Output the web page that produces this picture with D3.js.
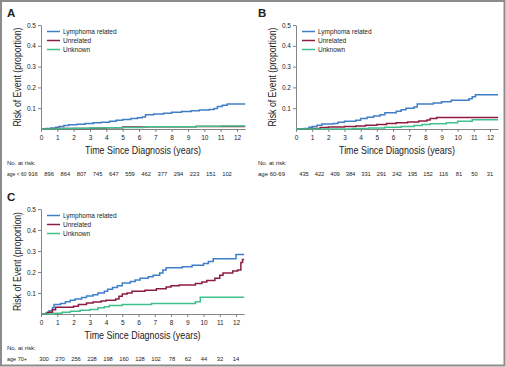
<!DOCTYPE html>
<html>
<head>
<meta charset="utf-8">
<script src="https://cdnjs.cloudflare.com/ajax/libs/d3/7.8.5/d3.min.js"></script>
<style>
  body { margin: 0; background: #fff; }
  text { font-family: "Liberation Sans", Arial, sans-serif; fill: #222; }
</style>
</head>
<body>
<svg id="drawing_region"></svg>
<script>
// cumulative incidence, [years, proportion]
const lymphomaA = [[0,0],[0.3,0.002],[0.6,0.005],[0.9,0.008],[1.1,0.012],[1.4,0.017],[1.7,0.02],[2.2,0.023],[2.7,0.027],[3.2,0.03],[3.7,0.033],[4.2,0.037],[4.6,0.042],[5.0,0.046],[5.5,0.05],[5.9,0.054],[6.2,0.058],[6.4,0.068],[6.9,0.072],[7.5,0.076],[8.0,0.08],[8.6,0.084],[9.2,0.088],[9.7,0.091],[10.3,0.094],[10.6,0.098],[10.8,0.108],[11.1,0.114],[11.4,0.12],[12.5,0.12]];
const unrelatedA = [[0,0],[1,0.002],[2,0.003],[3,0.004],[4,0.006],[5,0.01],[6.4,0.011],[9,0.011],[9.5,0.012],[12.5,0.012]];
const unknownA = [[0,0],[1,0.002],[2,0.004],[3,0.005],[4,0.006],[5,0.007],[6.3,0.011],[9.5,0.013],[11,0.014],[12.5,0.014]];

const lymphomaB = [[0,0],[0.5,0.002],[0.8,0.008],[1,0.012],[1.3,0.018],[1.6,0.024],[2.3,0.027],[2.6,0.032],[3,0.037],[3.7,0.042],[4,0.05],[4.4,0.057],[4.8,0.063],[5.2,0.068],[5.5,0.078],[6.2,0.085],[6.5,0.093],[6.8,0.1],[7.3,0.106],[7.5,0.12],[8.5,0.125],[9,0.131],[9.6,0.138],[10.7,0.145],[10.9,0.155],[11.1,0.165],[12.5,0.165]];
const unrelatedB = [[0,0],[1,0.003],[1.5,0.007],[2,0.01],[3,0.012],[3.7,0.015],[4.3,0.018],[5,0.022],[5.6,0.026],[6.2,0.03],[6.9,0.034],[7.6,0.038],[8.1,0.043],[8.3,0.05],[8.7,0.055],[12.5,0.055]];
const unknownB = [[0,0],[3.5,0.002],[4.5,0.005],[5.5,0.008],[6.5,0.012],[7.3,0.017],[7.8,0.022],[8.3,0.025],[9.3,0.03],[10,0.037],[10.9,0.045],[12.5,0.045]];

const lymphomaC = [[0,0],[0.3,0.005],[0.5,0.015],[0.7,0.03],[0.8,0.045],[1.2,0.05],[1.5,0.058],[1.8,0.065],[2.1,0.072],[2.5,0.078],[2.8,0.086],[3.2,0.092],[3.5,0.1],[3.9,0.108],[4.1,0.118],[4.4,0.126],[4.7,0.135],[5,0.148],[5.5,0.155],[5.8,0.162],[6.1,0.17],[6.6,0.177],[6.9,0.185],[7.3,0.195],[7.5,0.21],[7.7,0.22],[8.7,0.225],[9.3,0.232],[10,0.24],[10.3,0.25],[10.6,0.263],[12,0.283],[12.5,0.283]];
const unrelatedC = [[0,0],[0.4,0.008],[0.7,0.02],[0.9,0.032],[2,0.037],[2.3,0.045],[2.8,0.052],[3.2,0.057],[3.7,0.062],[4,0.066],[4.6,0.072],[4.8,0.085],[5,0.095],[5.3,0.1],[5.6,0.108],[6.4,0.113],[7.1,0.12],[7.7,0.128],[8,0.135],[8.5,0.138],[9.5,0.145],[9.9,0.152],[10.2,0.16],[10.7,0.17],[11,0.185],[11.2,0.195],[11.8,0.205],[12.1,0.21],[12.3,0.245],[12.4,0.26],[12.5,0.26]];
const unknownC = [[0,0],[0.8,0.003],[1.3,0.008],[1.8,0.013],[2.4,0.018],[3,0.022],[3.5,0.03],[3.9,0.035],[4.2,0.04],[5,0.045],[6.8,0.05],[9.4,0.05],[9.5,0.058],[9.8,0.08],[12.5,0.08]];

const seriesNames = ["Lymphoma related", "Unrelated", "Unknown"];
const seriesColors = ["#3f7fc8", "#8e1c41", "#40c08c"];
const xTicks = [0,1,2,3,4,5,6,7,8,9,10,11,12];
const yTicks = [0.1,0.2,0.3,0.4,0.5];

const riskA = [916,896,864,807,745,647,559,462,377,294,223,151,102];
const riskB = [435,422,409,384,331,291,242,195,152,116,81,50,31];
const riskC = [300,270,256,228,198,160,128,102,78,62,44,32,14];

const svg = d3.select("#drawing_region")
    .attr("width", 506)
    .attr("height", 367);

svg.append("rect")
    .attr("x", 1).attr("y", 1)
    .attr("width", 503.5).attr("height", 364.5)
    .attr("fill", "none")
    .attr("stroke", "#8c8c8c")
    .attr("stroke-width", 2);

const panels = [
    { letter: "A", x0: 41, x12: 237, yTop: 25, yBot: 129, left: 7, series: [lymphomaA, unrelatedA, unknownA], risk: riskA, riskLabel: "age < 60", labelSize: 5, riskRange: [33, 227] },
    { letter: "B", x0: 296, x12: 490, yTop: 25, yBot: 129, left: 258, series: [lymphomaB, unrelatedB, unknownB], risk: riskB, riskLabel: "age 60-69", labelSize: 6, riskRange: [304, 490] },
    { letter: "C", x0: 41, x12: 236, yTop: 209, yBot: 314, left: 7, series: [lymphomaC, unrelatedC, unknownC], risk: riskC, riskLabel: "age 70+", labelSize: 5.5, riskRange: [44, 236] }
];

panels.forEach(p => drawPanel(p));

function drawPanel(p) {
    const perYear = (p.x12 - p.x0) / 12;
    const x = d3.scaleLinear().domain([0, 12.5]).range([p.x0, p.x0 + perYear * 12.5]);
    const y = d3.scaleLinear().domain([0, 0.5]).range([p.yBot, p.yTop]);
    const xRisk = d3.scalePoint().domain(xTicks).range(p.riskRange);
    const g = svg.append("g");

    // panel letter
    g.append("text")
        .attr("x", p.left).attr("y", p.yTop - 8)
        .attr("font-size", 11.5).attr("font-weight", "bold")
        .text(p.letter);

    // axes
    const yAxis = g.append("g")
        .attr("transform", `translate(${p.x0},0)`)
        .call(d3.axisLeft(y).tickValues(yTicks).tickSize(3).tickSizeOuter(0).tickPadding(2).tickFormat(d3.format(".1f")));
    const xAxis = g.append("g")
        .attr("transform", `translate(0,${p.yBot})`)
        .call(d3.axisBottom(x).tickValues(xTicks).tickSize(3).tickSizeOuter(0).tickPadding(3));
    [xAxis, yAxis].forEach(a => {
        a.selectAll("path, line").attr("stroke", "#666").attr("stroke-width", 0.8);
        a.selectAll("text").attr("font-size", 6.5).attr("fill", "#333")
            .attr("font-family", "'Liberation Sans', Arial, sans-serif");
    });

    // axis titles
    g.append("text")
        .attr("transform", `translate(${p.x0 - 20},${(p.yTop + p.yBot) / 2}) rotate(-90)`)
        .attr("text-anchor", "middle")
        .attr("font-size", 11)
        .attr("textLength", 99).attr("lengthAdjust", "spacingAndGlyphs")
        .text("Risk of Event (proportion)");
    g.append("text")
        .attr("x", (x(0) + x(12.5)) / 2).attr("y", p.yBot + 25)
        .attr("text-anchor", "middle")
        .attr("font-size", 11.5)
        .attr("textLength", 116).attr("lengthAdjust", "spacingAndGlyphs")
        .text("Time Since Diagnosis (years)");

    // curves
    const line = d3.line()
        .x(d => x(d[0]))
        .y(d => y(d[1]))
        .curve(d3.curveStepAfter);
    g.selectAll(".curve")
        .data(p.series)
        .enter()
        .append("path")
        .attr("class", "curve")
        .attr("d", line)
        .attr("fill", "none")
        .attr("stroke", (d, i) => seriesColors[i])
        .attr("stroke-width", 1.5);

    // legend
    const leg = g.selectAll(".leg")
        .data(seriesNames)
        .enter()
        .append("g")
        .attr("class", "leg")
        .attr("transform", (d, i) => `translate(${p.x0 + 6},${p.yTop + 6.5 + i * 9})`);
    leg.append("line")
        .attr("x1", 0).attr("x2", 13)
        .attr("stroke", (d, i) => seriesColors[i])
        .attr("stroke-width", 1.5);
    leg.append("text")
        .attr("x", 16).attr("dy", "0.35em")
        .attr("font-size", 6.5)
        .text(d => d);

    // number at risk
    g.append("text")
        .attr("x", p.left).attr("y", p.yBot + 36)
        .attr("font-size", 6)
        .text("No. at risk:");
    g.append("text")
        .attr("x", p.left).attr("y", p.yBot + 47)
        .attr("font-size", p.labelSize)
        .text(p.riskLabel);
    g.selectAll(".risk")
        .data(p.risk)
        .enter()
        .append("text")
        .attr("class", "risk")
        .attr("x", (d, i) => xRisk(xTicks[i]))
        .attr("y", p.yBot + 47)
        .attr("text-anchor", "middle")
        .attr("font-size", 5.8)
        .text(d => d);
}
</script>
</body>
</html>
